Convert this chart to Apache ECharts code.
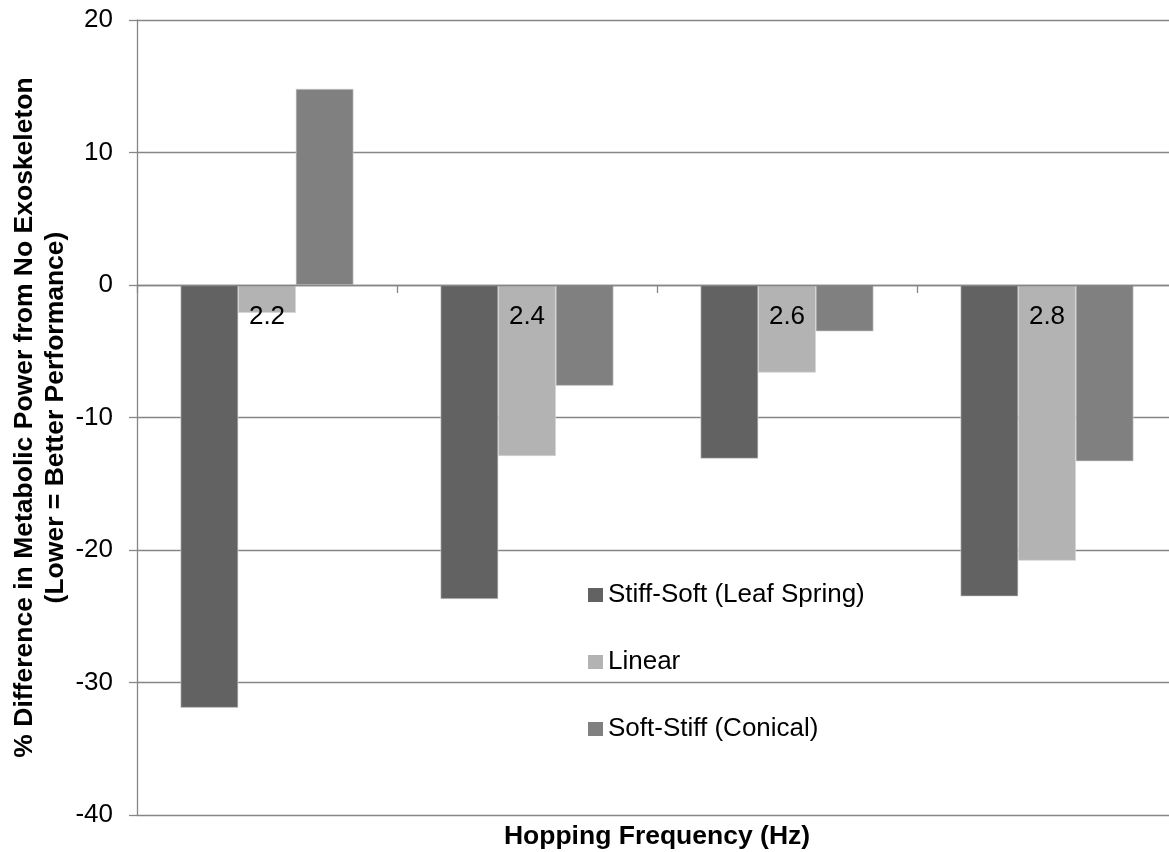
<!DOCTYPE html>
<html>
<head>
<meta charset="utf-8">
<script src="https://cdn.jsdelivr.net/npm/echarts@6/dist/echarts.min.js"></script>
<style>
  html, body { margin: 0; padding: 0; background: #fff; }
  #chart { width: 1169px; height: 852px; }
</style>
</head>
<body>
<div id="chart"></div>
<script>
// Hopping frequencies (Hz)
const categories = ['2.2', '2.4', '2.6', '2.8'];
// % difference in metabolic power vs. no exoskeleton, per spring type
const stiffSoft = [-31.9, -23.7, -13.1, -23.5];
const linear = [-2.1, -12.9, -6.6, -20.8];
const softStiff = [14.8, -7.6, -3.5, -13.3];
const seriesNames = ['Stiff-Soft (Leaf Spring)', 'Linear', 'Soft-Stiff (Conical)'];
const yTicks = { min: -40, max: 20, interval: 10 };

const FONT = '"Liberation Sans", Arial, sans-serif';
const AXIS_GREY = '#868686';

const chart = echarts.init(document.getElementById('chart'), null, { renderer: 'canvas' });

const barStyle = (color) => ({ color: color, borderColor: '#d4d4d4', borderWidth: 0.6 });

chart.setOption({
  animation: false,
  backgroundColor: '#ffffff',
  textStyle: { fontFamily: FONT },
  grid: { left: 137, top: 20, right: -8, bottom: 37, containLabel: false, outerBoundsMode: 'none' },
  legend: {
    orient: 'vertical',
    left: 583,
    top: 577,
    itemWidth: 15,
    itemHeight: 14,
    itemGap: 41,
    icon: 'rect',
    itemStyle: { borderWidth: 0 },
    data: seriesNames,
    textStyle: { fontFamily: FONT, fontSize: 26, color: '#000' }
  },
  xAxis: {
    type: 'category',
    data: categories,
    z: 10,
    name: 'Hopping Frequency (Hz)',
    nameLocation: 'middle',
    nameGap: 8,
    nameMoveOverlap: false,
    nameTextStyle: { fontFamily: FONT, fontSize: 26.5, fontWeight: 'bold', color: '#000', verticalAlign: 'top' },
    axisLine: { onZero: true, lineStyle: { color: AXIS_GREY, width: 1.3 } },
    axisTick: { show: true, length: 8, lineStyle: { color: AXIS_GREY, width: 1.3 } },
    // category labels sit just under the zero line, inside the bar group
    axisLabel: { fontFamily: FONT, fontSize: 26, color: '#000', margin: -511 },
    splitLine: { show: false }
  },
  yAxis: {
    type: 'value',
    min: yTicks.min,
    max: yTicks.max,
    interval: yTicks.interval,
    name: '% Difference in Metabolic Power from No Exoskeleton\n(Lower = Better Performance)',
    nameLocation: 'middle',
    nameRotate: 90,
    nameGap: 66,
    nameMoveOverlap: false,
    nameTextStyle: { fontFamily: FONT, fontSize: 26.5, fontWeight: 'bold', color: '#000', lineHeight: 31 },
    axisLine: { show: true, lineStyle: { color: AXIS_GREY, width: 1.3 } },
    axisTick: { show: true, length: 8, lineStyle: { color: AXIS_GREY, width: 1.3 } },
    axisLabel: { fontFamily: FONT, fontSize: 26, color: '#000', margin: 24 },
    splitLine: { show: true, lineStyle: { color: AXIS_GREY, width: 1.3 } }
  },
  series: [
    { name: seriesNames[0], type: 'bar', data: stiffSoft, barGap: '0%', barCategoryGap: '33.5%', itemStyle: barStyle('#626262') },
    { name: seriesNames[1], type: 'bar', data: linear, barGap: '0%', barCategoryGap: '33.5%', itemStyle: barStyle('#b3b3b3') },
    { name: seriesNames[2], type: 'bar', data: softStiff, barGap: '0%', barCategoryGap: '33.5%', itemStyle: barStyle('#808080') }
  ]
});
</script>
</body>
</html>
